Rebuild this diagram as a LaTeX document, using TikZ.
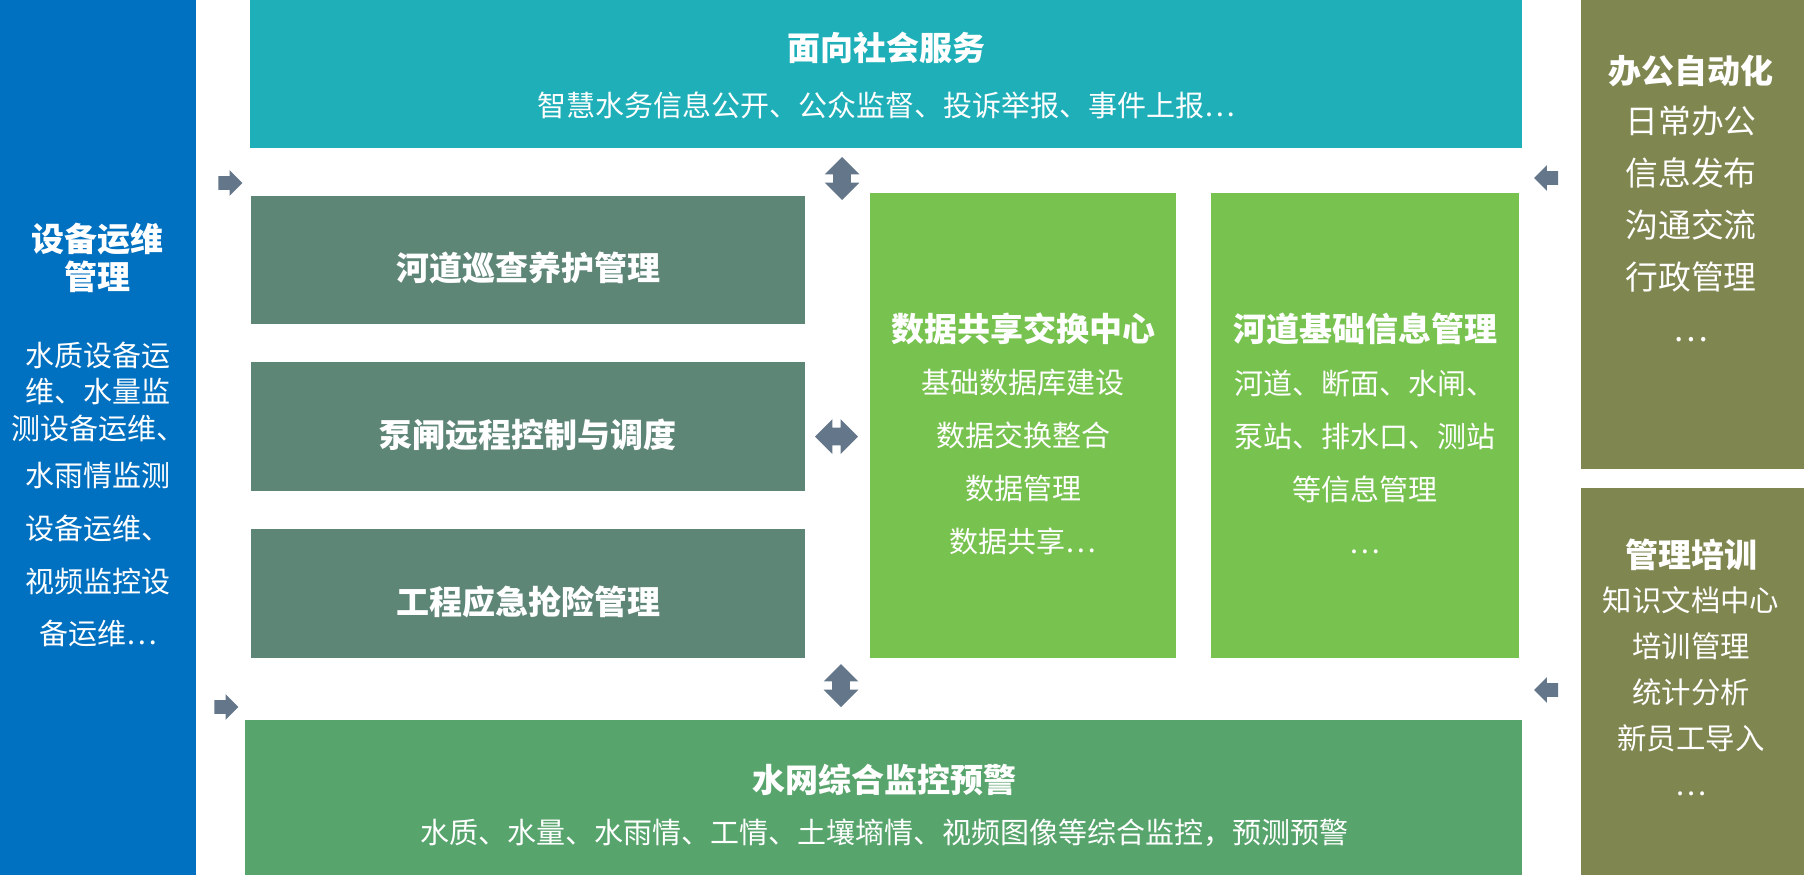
\documentclass[tikz,border=0pt]{standalone}
\usepackage{fontspec}
\setmainfont{Noto Sans CJK SC}
\usepackage{xcolor}
\usetikzlibrary{positioning, shapes.arrows}
\definecolor{devblue}{HTML}{0070C0}
\definecolor{svcteal}{HTML}{1EAFB8}
\definecolor{bizgray}{HTML}{5E8677}
\definecolor{datagreen}{HTML}{78C250}
\definecolor{monigreen}{HTML}{57A46C}
\definecolor{officeolive}{HTML}{7F8650}
\definecolor{arrowslate}{HTML}{647689}
\tikzset{
  panel/.style={inner sep=0pt, outer sep=0pt, align=center, text=white},
  paneltext/.style={inner sep=0pt, align=center, text=white},
  headfont/.style={font=\fontsize{16.5}{19}\selectfont\bfseries},
  bodyfont/.style={font=\fontsize{14.5}{18}\selectfont},
  flowarrow/.style={single arrow, fill=arrowslate, inner sep=3.25pt, minimum height=12pt, minimum width=12.5pt, single arrow head extend=3pt},
  swaparrow/.style={double arrow, fill=arrowslate, inner sep=4.25pt, minimum height=21.5pt, minimum width=17pt, double arrow head extend=4.25pt}
}
\begin{document}
\begin{tikzpicture}[x=0.5pt, y=-0.5pt, node distance=19pt and 17.5pt]
    \useasboundingbox (0,0) rectangle (1804,875);
    % left column
    \node[panel, fill=devblue, minimum width=98pt, minimum height=437.5pt] (equip) at (98,437.5) {};
    \node[paneltext, headfont] (equiptitle) at (98,258) {设备运维\\管理};
    \node[paneltext, bodyfont] (equipbody) at (98,494) {水质设备运\\维、水量监\\[0.5pt]测设备运维、\\[5.5pt]水雨情监测\\[8.5pt]设备运维、\\[8.5pt]视频监控设\\[8pt]备运维…};

    % top service band
    \node[panel, fill=svcteal, minimum width=636pt, minimum height=74pt] (social) at (886,74) {};
    \node[paneltext, headfont] (socialtitle) at (886,48) {面向社会服务};
    \node[paneltext, bodyfont] (socialbody) at (886,105) {智慧水务信息公开、公众监督、投诉举报、事件上报…};

    % business blocks
    \node[panel, fill=bizgray, minimum width=277pt, minimum height=64pt] (patrol) at (528,260) {};
    \node[panel, fill=bizgray, minimum width=277pt, minimum height=64.5pt, below=of patrol] (pump) {};
    \node[panel, fill=bizgray, minimum width=277pt, minimum height=64.5pt, below=of pump] (emerg) {};
    \node[paneltext, headfont] (patroltext) at ([yshift=-4pt]patrol.center) {河道巡查养护管理};
    \node[paneltext, headfont] (pumptext) at ([yshift=-4pt]pump.center) {泵闸远程控制与调度};
    \node[paneltext, headfont] (emergtext) at ([yshift=-4pt]emerg.center) {工程应急抢险管理};

    % data blocks
    \node[panel, fill=datagreen, minimum width=153pt, minimum height=232.5pt] (share) at (1023,425.5) {};
    \node[panel, fill=datagreen, minimum width=154pt, minimum height=232.5pt, right=of share] (river) {};
    \node[paneltext, headfont] (sharetitle) at (1023,329) {数据共享交换中心};
    \node[paneltext, font=\fontsize{14.5}{26.5}\selectfont] (sharebody) at (1023,462) {基础数据库建设\\数据交换整合\\数据管理\\数据共享…};
    \node[paneltext, headfont] (rivertitle) at (1365,329) {河道基础信息管理};
    \node[paneltext, font=\fontsize{14.5}{26.5}\selectfont] (riverbody) at (1365,462) {河道、断面、水闸、\\泵站、排水口、测站\\等信息管理\\…};

    % bottom monitoring band
    \node[panel, fill=monigreen, minimum width=638.5pt, minimum height=77.5pt] (monitor) at (883.5,797.5) {};
    \node[paneltext, headfont] (monitortitle) at (884,780) {水网综合监控预警};
    \node[paneltext, bodyfont] (monitorbody) at (884,833) {水质、水量、水雨情、工情、土壤墒情、视频图像等综合监控，预测预警};

    % right column
    \node[panel, fill=officeolive, minimum width=111.5pt, minimum height=234.5pt] (office) at (1692.5,234.5) {};
    \node[paneltext, headfont] (officetitle) at (1691,71) {办公自动化};
    \node[paneltext, font=\fontsize{16.4}{26}\selectfont] (officebody) at (1691,224) {日常办公\\信息发布\\沟通交流\\行政管理\\…};
    \node[panel, fill=officeolive, minimum width=111.5pt, minimum height=193.5pt] (train) at (1692.5,681.5) {};
    \node[paneltext, headfont] (traintitle) at (1691,555) {管理培训};
    \node[paneltext, font=\fontsize{14.7}{23}\selectfont] (trainbody) at (1691,691) {知识文档中心\\培训管理\\统计分析\\新员工导入\\…};

    % arrows
    \node[flowarrow] (inup) at (227,183) {};
    \node[flowarrow] (indown) at (223,707) {};
    \node[flowarrow, shape border rotate=180] (outup) at (1549.5,178) {};
    \node[flowarrow, shape border rotate=180] (outdown) at (1549.5,690) {};
    \node[swaparrow, shape border rotate=90] (topswap) at (842,178.5) {};
    \node[swaparrow] (midswap) at (836.5,436.5) {};
    \node[swaparrow, shape border rotate=90] (botswap) at (841,685.5) {};
\end{tikzpicture}
\end{document}
